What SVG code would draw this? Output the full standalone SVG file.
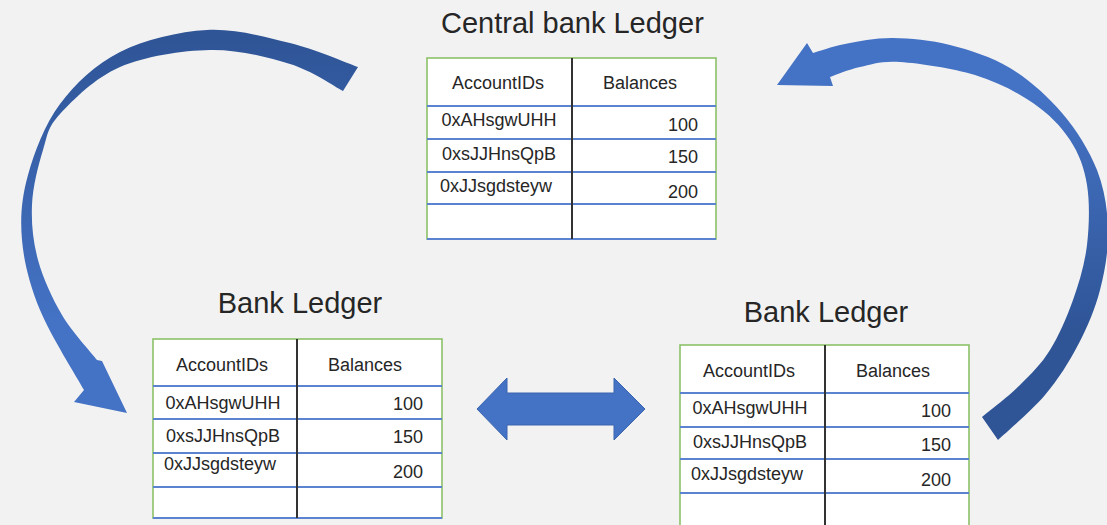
<svg xmlns="http://www.w3.org/2000/svg" width="1107" height="525" viewBox="0 0 1107 525">
  <style>
    .title { font-family: "Liberation Sans", Arial, sans-serif; font-size: 29px; fill: #262626; }
    .cell { font-family: "Liberation Sans", Arial, sans-serif; font-size: 18px; fill: #262626; }
    .mid { text-anchor: middle; }
    .num { text-anchor: end; }
    .frame { fill: #ffffff; stroke: #8cc168; stroke-width: 1.6; }
    .row { stroke: #5b83d0; stroke-width: 2; }
    .col { stroke: #333333; stroke-width: 2; }
  </style>
  <defs>
    <linearGradient id="gradLeft" gradientUnits="userSpaceOnUse" x1="0" y1="40" x2="0" y2="320">
      <stop offset="0" stop-color="#2f5597"/>
      <stop offset="1" stop-color="#4472c4"/>
    </linearGradient>
    <linearGradient id="gradRight" gradientUnits="userSpaceOnUse" x1="0" y1="100" x2="0" y2="330">
      <stop offset="0" stop-color="#4472c4"/>
      <stop offset="1" stop-color="#2f5597"/>
    </linearGradient>
  </defs>

  <rect x="0" y="0" width="1107" height="525" fill="#f2f2f2"/>

  <!-- connectors -->
  <g id="connectors">
    <!-- central ledger to left bank ledger -->
    <path id="arrow-central-to-left" fill="url(#gradLeft)" d="M358,67
      C346.7,63 315.2,49.2 290,43
      C264.8,36.8 235.3,28.5 207,30
      C178.7,31.5 144.5,39.7 120,52
      C95.5,64.3 75.3,83.5 60,104
      C44.7,124.5 34.3,152.3 28,175
      C21.7,197.7 20,217.5 22,240
      C24,262.5 29.7,285 40,310
      C50.3,335 76.7,376.7 84,390
      L74,402 L127,413 L102,361 L97,360
      C91.2,352.5 71.8,331.7 62,315
      C52.2,298.3 43,278.3 38,260
      C33,241.7 31.2,223.3 32,205
      C32.8,186.7 38.3,165.2 43,150
      C47.7,134.8 47.2,127.8 60,114
      C72.8,100.2 95,77.7 120,67
      C145,56.3 181.7,50.5 210,50
      C238.3,49.5 267.8,57.2 290,64
      C312.2,70.8 334.2,86.5 343,91 Z"/>
    <!-- right bank ledger to central ledger -->
    <path id="arrow-right-to-central" fill="url(#gradRight)" d="M998,440
      C1005.8,432.5 1031.7,410.8 1045,395
      C1058.3,379.2 1068.8,362.5 1078,345
      C1087.2,327.5 1095,309.2 1100,290
      C1105,270.8 1108.5,250 1108,230
      C1107.5,210 1104.7,189.5 1097,170
      C1089.3,150.5 1076.5,130 1062,113
      C1047.5,96 1028.7,79.3 1010,68
      C991.3,56.7 969.5,50 950,45
      C930.5,40 910.5,38.2 893,38
      C875.5,37.8 858.3,41.5 845,44
      C831.7,46.5 818.3,51.5 813,53
      L807,43 L777,85 L833,86 L830,77
      C835,75.3 848.3,69.5 860,67
      C871.7,64.5 880.8,60.7 900,62
      C919.2,63.3 952.8,68.2 975,75
      C997.2,81.8 1017.2,92.2 1033,103
      C1048.8,113.8 1061,126.3 1070,140
      C1079,153.7 1084.2,167.5 1087,185
      C1089.8,202.5 1089.3,225.8 1087,245
      C1084.7,264.2 1079.2,282.5 1073,300
      C1066.8,317.5 1058.8,335.8 1050,350
      C1041.2,364.2 1031.3,373.8 1020,385
      C1008.7,396.2 988.3,411.7 982,417 Z"/>
    <!-- exchange between the two bank ledgers -->
    <polygon id="arrow-bank-exchange" fill="#4472c4" stroke="#3b65b0" stroke-width="1"
      points="477,409 507,378 507,393 614,393 614,378 645,409 614,440 614,425 507,425 507,440"/>
  </g>

  <!-- central bank ledger -->
  <g id="central-ledger">
    <text class="title" x="441" y="33">Central bank Ledger</text>
    <rect class="frame" x="427" y="58" width="289" height="181"/>
    <line class="row" x1="427" y1="106" x2="716" y2="106"/>
    <line class="row" x1="427" y1="139" x2="716" y2="139"/>
    <line class="row" x1="427" y1="172" x2="716" y2="172"/>
    <line class="row" x1="427" y1="204" x2="716" y2="204"/>
    <line class="row" x1="427" y1="239" x2="716" y2="239"/>
    <line class="col" x1="572" y1="58" x2="572" y2="239"/>
    <text class="cell mid" x="498" y="89">AccountIDs</text>
    <text class="cell mid" x="640" y="89">Balances</text>
    <text class="cell mid" x="499" y="126">0xAHsgwUHH</text>
    <text class="cell mid" x="499" y="160">0xsJJHnsQpB</text>
    <text class="cell mid" x="496" y="192">0xJJsgdsteyw</text>
    <text class="cell num" x="698" y="131">100</text>
    <text class="cell num" x="698" y="163">150</text>
    <text class="cell num" x="698" y="198">200</text>
  </g>

  <!-- left bank ledger -->
  <g id="bank-ledger-left">
    <text class="title mid" x="300" y="313">Bank Ledger</text>
    <rect class="frame" x="153" y="339" width="289" height="179"/>
    <line class="row" x1="153" y1="386" x2="442" y2="386"/>
    <line class="row" x1="153" y1="419" x2="442" y2="419"/>
    <line class="row" x1="153" y1="453" x2="442" y2="453"/>
    <line class="row" x1="153" y1="487" x2="442" y2="487"/>
    <line class="row" x1="153" y1="518" x2="442" y2="518"/>
    <line class="col" x1="297" y1="339" x2="297" y2="518"/>
    <text class="cell mid" x="222" y="371">AccountIDs</text>
    <text class="cell mid" x="365" y="371">Balances</text>
    <text class="cell mid" x="223" y="409">0xAHsgwUHH</text>
    <text class="cell mid" x="223" y="442">0xsJJHnsQpB</text>
    <text class="cell mid" x="220" y="470">0xJJsgdsteyw</text>
    <text class="cell num" x="423" y="410">100</text>
    <text class="cell num" x="423" y="443">150</text>
    <text class="cell num" x="423" y="478">200</text>
  </g>

  <!-- right bank ledger -->
  <g id="bank-ledger-right">
    <text class="title mid" x="826" y="322">Bank Ledger</text>
    <rect class="frame" x="680" y="345" width="289" height="184"/>
    <line class="row" x1="680" y1="393" x2="969" y2="393"/>
    <line class="row" x1="680" y1="427" x2="969" y2="427"/>
    <line class="row" x1="680" y1="459" x2="969" y2="459"/>
    <line class="row" x1="680" y1="493" x2="969" y2="493"/>
    <line class="col" x1="825" y1="345" x2="825" y2="529"/>
    <text class="cell mid" x="749" y="377">AccountIDs</text>
    <text class="cell mid" x="893" y="377">Balances</text>
    <text class="cell mid" x="750" y="414">0xAHsgwUHH</text>
    <text class="cell mid" x="750" y="448">0xsJJHnsQpB</text>
    <text class="cell mid" x="747" y="480">0xJJsgdsteyw</text>
    <text class="cell num" x="951" y="417">100</text>
    <text class="cell num" x="951" y="451">150</text>
    <text class="cell num" x="951" y="486">200</text>
  </g>
</svg>
